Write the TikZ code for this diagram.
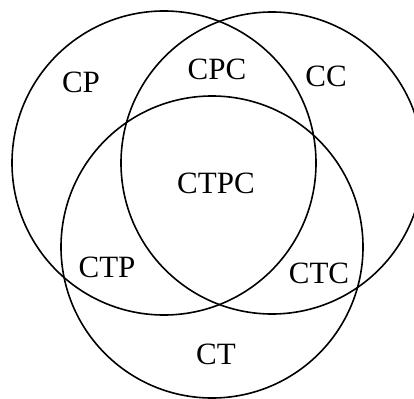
\documentclass[tikz,border=0pt]{standalone}
\usepackage{fontspec}
\setmainfont{Liberation Serif}
\usepackage{tikz}
\tikzset{
	ring/.style={line width=1.6pt, color=black},
	region/.style={inner sep=0pt, font=\fontsize{31}{31}\selectfont}
}

\begin{document}
\begin{tikzpicture}[x=1pt, y=-1pt]
		%%%%% START %%%%%
		
		\useasboundingbox (0, 0) rectangle (414, 398);
		
		\draw[ring] (164, 163) circle (152);
		\draw[ring] (272, 163) circle (151);
		\draw[ring] (212, 247) circle (151);
		
		\node[region] (cp) at (81, 82) {CP};
		\node[region] (cpc) at (217, 69) {CPC};
		\node[region] (cc) at (326, 76) {CC};
		\node[region] (ctpc) at (216, 183) {CTPC};
		\node[region] (ctp) at (107, 267) {CTP};
		\node[region] (ctc) at (319, 273) {CTC};
		\node[region] (ct) at (216, 354) {CT};
		
		%%%%% END %%%%%
	\end{tikzpicture}
\end{document}
